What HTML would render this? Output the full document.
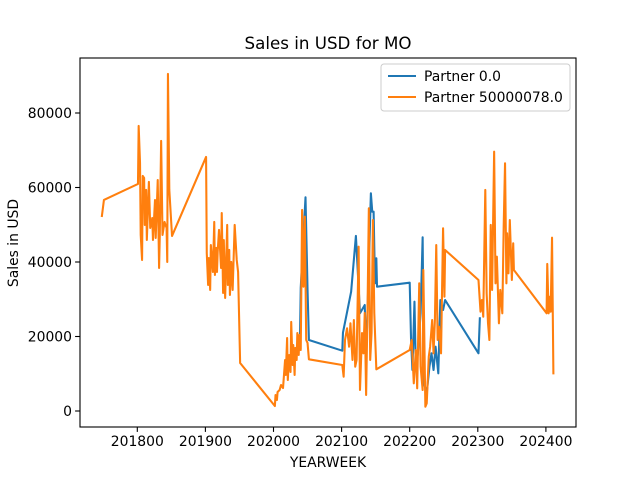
<!DOCTYPE html>
<html><head><meta charset="utf-8"><style>
body{margin:0;background:#fff;}
svg{display:block;font-family:"DejaVu Sans","Liberation Sans",sans-serif;}
</style></head><body>
<svg id="chart" width="640" height="480">
<rect width="640" height="480" fill="#fff"/>
<text x="328" y="49" font-size="16.7" text-anchor="middle">Sales in USD for MO</text>
<text x="328" y="467" font-size="13.9" text-anchor="middle">YEARWEEK</text>
<text transform="translate(18,243) rotate(-90)" font-size="13.9" text-anchor="middle">Sales in USD</text>
<g id="plot"></g>
</svg>
<script>
const xTicks=[201800,201900,202000,202100,202200,202300,202400];
const yTicks=[0,20000,40000,60000,80000];
const orangeX=[201748,201751,201801,201802,201804,201805,201807,201808,201810,201811,201813,201814,201817,201819,201822,201823,201826,201827,201829,201830,201832,201833,201835,201837,201840,201843,201844,201845,201847,201851,
201901,201902,201904,201905,201907,201908,201911,201913,201914,201916,201917,201918,201920,201923,201924,201926,201927,201929,201932,201933,201935,201936,201938,201940,201943,201946,201948,201951,
202002,202003,202005,202006,202009,202011,202014,202017,202018,202020,202021,202023,202025,202026,202028,202029,202031,202032,202034,202035,202037,202038,202040,202042,202044,202046,202048,202050,202052,
202101,202103,202105,202108,202111,202113,202116,202118,202120,202122,202125,202127,202130,202132,202134,202136,202138,202140,202142,202144,202146,202148,202151,
202200,202203,202206,202209,202211,202214,202216,202219,202220,202223,202225,202228,202230,202233,202235,202237,202239,202241,202243,202246,202249,202251,202252,
202301,202304,202306,202308,202311,202313,202315,202317,202319,202321,202324,202326,202328,202331,202333,202336,202338,202340,202342,202343,202345,202347,202350,202352,202353,
202401,202402,202404,202406,202407,202409,202411];
const orangeY=[52360,56650,60950,76520,66590,47260,40540,63100,62560,49940,59340,45910,61490,49140,51820,45910,56650,46450,56650,62020,38400,46990,72500,47260,50750,49140,40010,90480,59340,46990,
68200,42420,33830,41080,32490,44570,37320,50750,36520,43770,37320,42690,48600,38400,53160,31680,45910,30340,49940,33830,43230,31150,40010,32490,49940,40540,37320,12890,
1340,4300,2950,5100,5640,6980,6180,13690,9670,19600,8320,15040,10470,23900,12350,17720,9670,16920,13690,20940,15040,20400,16380,53970,33370,52170,19060,18260,13880,
12350,9210,19060,22200,17260,23550,13690,24430,11890,13690,44110,5640,20940,15490,26310,4300,26310,54420,13690,20940,51280,26310,11190,
16380,19060,7440,16380,6090,34280,11890,5640,37860,1150,2060,14580,17260,24430,15490,24430,44570,19060,22630,15490,49050,30690,43230,
35170,26660,29800,25320,59340,31600,23550,19060,49940,32490,69620,34280,41430,23550,32490,26230,49480,66510,34280,47710,36970,51280,35170,45030,37860,
26230,39470,26230,30690,26660,46530,10120];
const blueX=[202039,202040,202047,202050,202052,202101,202102,202114,202121,202127,202134,202136,202143,202145,202147,202149,202151,202152,202200,202202,202204,202207,202209,202212,202216,202219,202221,202225,202229,202232,202235,202238,202242,202245,202249,202252,202301,202303];
const blueY=[20940,33100,57360,32490,19060,16190,21020,32030,46990,26230,28460,13690,58450,53510,53510,34280,41000,33370,34450,19060,11010,29340,11010,15490,26230,46640,7440,4750,11890,15490,11010,17260,10120,29800,27120,29800,15490,24890];

const L=80,R=576,T=58,B=427;
const sx=v=>137.3+(v-201800)*0.681;
const sy=v=>411-v*74.5/20000;
const NS="http://www.w3.org/2000/svg";
const g=document.getElementById('plot');
function mk(tag,attrs){const e=document.createElementNS(NS,tag);for(const k in attrs)e.setAttribute(k,attrs[k]);g.appendChild(e);return e;}
function series(xs,ys,color,name){
  const d=xs.map((x,i)=>(i?'L':'M')+sx(x).toFixed(2)+','+sy(ys[i]).toFixed(2)).join('');
  const p=mk('path',{d:d,fill:'none',stroke:color,'stroke-width':2.08,'stroke-linejoin':'round','stroke-linecap':'square'});
  
  
}
series(blueX,blueY,'#1f77b4','series-partner-0');
series(orangeX,orangeY,'#ff7f0e','series-partner-50000078');
const frame=mk('rect',{x:L,y:T,width:R-L,height:B-T,fill:'none',stroke:'#000','stroke-width':1.1});


xTicks.forEach(t=>{
  const x=sx(t);
  const tk=mk('line',{x1:x,x2:x,y1:B,y2:B+4.9,stroke:'#000','stroke-width':1.1});
  
  
  const tx=mk('text',{x:x,y:B+19,'font-size':13.9,'text-anchor':'middle'});
  tx.textContent=t;
  
  
});
yTicks.forEach(t=>{
  const y=sy(t);
  const tk=mk('line',{x1:L-4.9,x2:L,y1:y,y2:y,stroke:'#000','stroke-width':1.1});
  
  
  const tx=mk('text',{x:L-8,y:y+5,'font-size':13.9,'text-anchor':'end'});
  tx.textContent=t;
  
  
});
const lg=mk('rect',{x:381,y:64,width:189,height:47,rx:3,fill:'#fff','fill-opacity':0.8,stroke:'#ccc','stroke-width':1});


[['Partner 0.0','#1f77b4',76],['Partner 50000078.0','#ff7f0e',97]].forEach(([lab,c,y])=>{
  const ln=mk('line',{x1:388,x2:416,y1:y,y2:y,stroke:c,'stroke-width':2.08});
  
  
  const tx=mk('text',{x:424,y:y+5,'font-size':13.9});
  tx.textContent=lab;
  
  
});
</script>
</body></html>
